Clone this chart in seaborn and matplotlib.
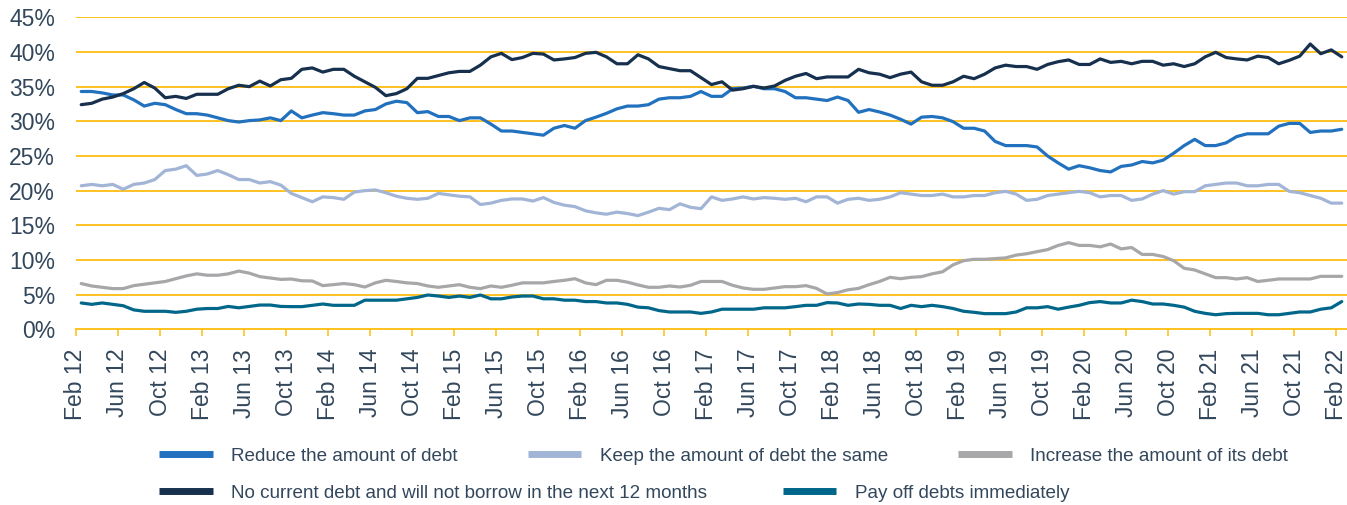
import numpy as np
import pandas as pd
import seaborn as sns
import matplotlib.pyplot as plt
from matplotlib.lines import Line2D

# ---------------------------------------------------------
# Data: monthly share of respondents, Feb 2012 - Feb 2022
# ---------------------------------------------------------

start_month = "2012-02"

reduce_debt = [
    34.3, 34.3, 34.1, 33.8, 33.8, 33.1, 32.2, 32.6, 32.4, 31.7, 31.1, 31.1, 30.9, 30.5, 30.1, 29.9, 30.1, 30.2, 30.5, 30.1,
    31.5, 30.5, 30.9, 31.25, 31.1, 30.9, 30.9, 31.5, 31.7, 32.5, 32.9, 32.7, 31.25, 31.4, 30.7, 30.7, 30.1, 30.5, 30.5, 29.6,
    28.6, 28.6, 28.4, 28.2, 28.0, 29.0, 29.4, 29.0, 30.1, 30.6, 31.15, 31.8, 32.2, 32.2, 32.4, 33.2, 33.4, 33.4, 33.6, 34.3,
    33.6, 33.6, 34.7, 34.8, 35.05, 34.7, 34.7, 34.3, 33.4, 33.4, 33.2, 33.0, 33.5, 33.0, 31.3, 31.7, 31.35, 30.9, 30.3, 29.6,
    30.6, 30.7, 30.5, 29.95, 29.0, 29.0, 28.6, 27.1, 26.5, 26.5, 26.5, 26.3, 25.0, 24.0, 23.1, 23.6, 23.3, 22.9, 22.7, 23.5,
    23.7, 24.2, 24.0, 24.4, 25.4, 26.5, 27.4, 26.5, 26.5, 26.9, 27.8, 28.2, 28.2, 28.2, 29.3, 29.7, 29.7, 28.4, 28.6, 28.6, 28.85,
]

keep_same = [
    20.7, 20.9, 20.7, 20.9, 20.2, 20.9, 21.1, 21.6, 22.9, 23.1, 23.6, 22.2, 22.4, 22.9, 22.3, 21.6, 21.6, 21.1, 21.3, 20.8,
    19.6, 19.0, 18.4, 19.1, 19.0, 18.75, 19.8, 20.0, 20.1, 19.7, 19.2, 18.9, 18.75, 18.9, 19.6, 19.4, 19.2, 19.1, 18.0, 18.2,
    18.6, 18.8, 18.8, 18.5, 19.0, 18.3, 17.9, 17.7, 17.1, 16.8, 16.6, 16.9, 16.7, 16.4, 16.9, 17.45, 17.26, 18.1, 17.6, 17.4,
    19.1, 18.6, 18.8, 19.1, 18.8, 19.0, 18.9, 18.75, 18.9, 18.4, 19.1, 19.1, 18.2, 18.75, 18.9, 18.6, 18.75, 19.1, 19.7, 19.5,
    19.3, 19.3, 19.5, 19.1, 19.1, 19.3, 19.3, 19.7, 19.9, 19.5, 18.6, 18.75, 19.3, 19.5, 19.7, 19.9, 19.7, 19.1, 19.3, 19.3,
    18.6, 18.8, 19.5, 20.0, 19.5, 19.85, 19.85, 20.7, 20.9, 21.1, 21.1, 20.7, 20.7, 20.9, 20.9, 19.9, 19.7, 19.3, 18.9, 18.2, 18.2,
]

increase_debt = [
    6.6, 6.25, 6.06, 5.87, 5.87, 6.3, 6.5, 6.7, 6.9, 7.3, 7.7, 8.0, 7.8, 7.8, 8.0, 8.4, 8.1, 7.6, 7.4, 7.2,
    7.25, 7.0, 6.97, 6.3, 6.44, 6.6, 6.44, 6.1, 6.7, 7.07, 6.9, 6.7, 6.6, 6.25, 6.06, 6.25, 6.44, 6.06, 5.87, 6.25,
    6.06, 6.35, 6.7, 6.7, 6.7, 6.9, 7.07, 7.3, 6.7, 6.44, 7.07, 7.07, 6.8, 6.4, 6.06, 6.06, 6.25, 6.1, 6.35, 6.9,
    6.9, 6.9, 6.35, 5.96, 5.77, 5.77, 5.96, 6.15, 6.15, 6.3, 5.9, 5.1, 5.3, 5.7, 5.9, 6.44, 6.9, 7.5, 7.3, 7.5,
    7.6, 8.0, 8.3, 9.3, 9.9, 10.1, 10.1, 10.2, 10.3, 10.7, 10.9, 11.2, 11.5, 12.1, 12.5, 12.1, 12.1, 11.9, 12.3, 11.6,
    11.8, 10.8, 10.8, 10.5, 9.9, 8.8, 8.56, 8.0, 7.45, 7.45, 7.26, 7.45, 6.9, 7.07, 7.26, 7.26, 7.26, 7.26, 7.64, 7.64, 7.64,
]

no_debt = [
    32.4, 32.6, 33.2, 33.5, 34.0, 34.7, 35.6, 34.8, 33.4, 33.6, 33.3, 33.9, 33.9, 33.9, 34.7, 35.2, 35.0, 35.8, 35.1, 36.0,
    36.2, 37.5, 37.7, 37.1, 37.5, 37.5, 36.5, 35.7, 34.9, 33.7, 34.0, 34.7, 36.2, 36.2, 36.6, 37.0, 37.2, 37.2, 38.1, 39.3,
    39.8, 38.9, 39.2, 39.8, 39.7, 38.85, 39.0, 39.2, 39.8, 39.95, 39.3, 38.3, 38.3, 39.6, 39.0, 37.9, 37.6, 37.3, 37.3, 36.3,
    35.3, 35.7, 34.5, 34.7, 35.05, 34.8, 35.1, 35.9, 36.5, 36.9, 36.15, 36.4, 36.4, 36.4, 37.5, 37.0, 36.8, 36.3, 36.8, 37.1,
    35.7, 35.2, 35.2, 35.7, 36.5, 36.15, 36.8, 37.7, 38.1, 37.9, 37.9, 37.5, 38.2, 38.6, 38.85, 38.2, 38.2, 39.0, 38.5, 38.65,
    38.3, 38.65, 38.65, 38.1, 38.3, 37.9, 38.3, 39.3, 39.95, 39.2, 39.0, 38.85, 39.4, 39.2, 38.3, 38.8, 39.4, 41.15, 39.75, 40.3, 39.3,
]

pay_off = [
    3.8, 3.6, 3.8, 3.6, 3.4, 2.8, 2.6, 2.6, 2.6, 2.45, 2.6, 2.9, 3.0, 3.0, 3.3, 3.1, 3.3, 3.5, 3.5, 3.3,
    3.27, 3.27, 3.46, 3.65, 3.46, 3.46, 3.46, 4.2, 4.2, 4.2, 4.2, 4.4, 4.6, 4.95, 4.8, 4.6, 4.8, 4.6, 4.95, 4.4,
    4.4, 4.66, 4.8, 4.8, 4.4, 4.4, 4.2, 4.2, 4.0, 4.0, 3.8, 3.8, 3.6, 3.2, 3.1, 2.7, 2.5, 2.5, 2.5, 2.3,
    2.5, 2.9, 2.9, 2.9, 2.9, 3.1, 3.1, 3.1, 3.27, 3.46, 3.46, 3.85, 3.8, 3.46, 3.65, 3.6, 3.46, 3.46, 3.0, 3.46,
    3.27, 3.46, 3.27, 3.0, 2.6, 2.45, 2.26, 2.26, 2.26, 2.5, 3.1, 3.1, 3.27, 2.9, 3.2, 3.46, 3.85, 4.0, 3.8, 3.8,
    4.2, 4.0, 3.65, 3.65, 3.46, 3.2, 2.6, 2.3, 2.1, 2.26, 2.3, 2.3, 2.3, 2.1, 2.1, 2.3, 2.5, 2.5, 2.9, 3.1, 4.0,
]

series_names = [
    "Reduce the amount of debt",
    "Keep the amount of debt the same",
    "Increase the amount of its debt",
    "No current debt and will not borrow in the next 12 months",
    "Pay off debts immediately",
]
series_values = [reduce_debt, keep_same, increase_debt, no_debt, pay_off]
colors = ["#2271BE", "#A3B5D6", "#A7A7AA", "#16304E", "#00668A"]

months = pd.date_range(start_month, periods=len(reduce_debt), freq="MS")
tick_labels = [m.strftime("%b %y") for m in months[::4]]

df = pd.concat(
    [pd.DataFrame({"month": np.arange(len(v)), "value": v, "series": name})
     for name, v in zip(series_names, series_values)],
    ignore_index=True,
)

# ---------------------------------------------------------
# Plot
# ---------------------------------------------------------

sns.set_style("white")
plt.rcParams["font.family"] = ["Liberation Sans", "DejaVu Sans"]

text_color = "#33475C"
gold = "#FFC222"

fig = plt.figure(figsize=(13.47, 5.05), dpi=100)
ax = fig.add_axes([0.0564, 0.3479, 0.9436, 0.6178])

sns.lineplot(data=df, x="month", y="value", hue="series", hue_order=series_names,
             palette=colors, linewidth=2.3, legend=False, ax=ax)

ax.set_xlim(-0.5, len(reduce_debt) - 0.5)
ax.set_ylim(0, 45)
ax.set_yticks(range(0, 46, 5))
ax.set_yticklabels([f"{v}%" for v in range(0, 46, 5)])
ax.set_xticks(np.arange(0, len(reduce_debt), 4) - 0.5)
ax.set_xticklabels(tick_labels, rotation=90)
ax.set_xlabel("")
ax.set_ylabel("")

ax.set_axisbelow(True)
ax.yaxis.grid(True, color=gold, linewidth=1.4)
ax.xaxis.grid(False)
for side in ["left", "right", "top"]:
    ax.spines[side].set_visible(False)
ax.spines["bottom"].set_color(gold)
ax.spines["bottom"].set_linewidth(1.4)

ax.tick_params(axis="y", length=0, pad=15, labelsize=16.5, labelcolor=text_color)
ax.tick_params(axis="x", length=5, width=1.2, color=gold, pad=9,
               labelsize=16.5, labelcolor=text_color, bottom=True)

# legend in two rows, like the original
handles = [Line2D([0], [0], color=c, lw=5, solid_capstyle="butt") for c in colors]
legend_kw = dict(frameon=False, fontsize=13.55, handlelength=2.85, handletextpad=1.0,
                 borderpad=0, borderaxespad=0, loc="center left", labelcolor=text_color)
leg1 = fig.legend(handles[:3], series_names[:3], ncol=3, columnspacing=3.7,
                  bbox_to_anchor=(159 / 1347, 1 - 456 / 505), **legend_kw)
leg2 = fig.legend(handles[3:], series_names[3:], ncol=2, columnspacing=4.0,
                  bbox_to_anchor=(159 / 1347, 1 - 493 / 505), **legend_kw)

plt.savefig("out.png", dpi=100)
